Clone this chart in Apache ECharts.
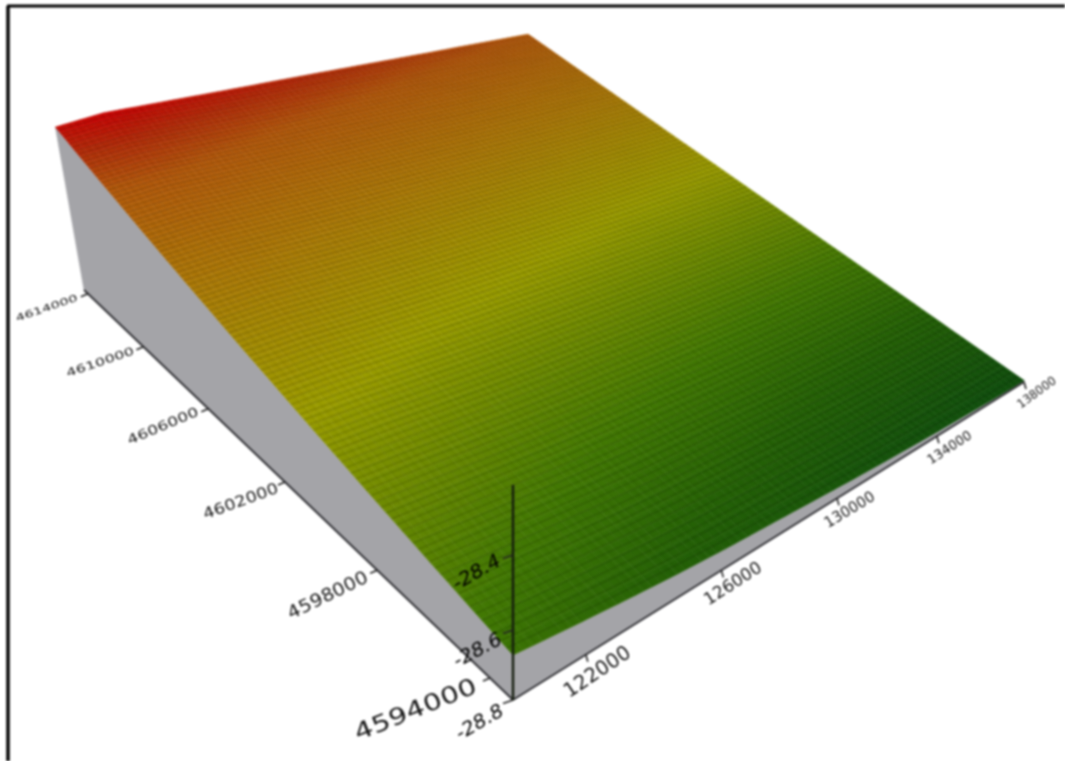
<!DOCTYPE html>
<html><head><meta charset="utf-8">
<style>html,body{margin:0;padding:0;background:#fff}#c{width:1065px;height:761px;filter:blur(0.8px)}</style>
<script src="https://cdn.jsdelivr.net/npm/echarts@6/dist/echarts.min.js"></script>
</head><body><div id="c"></div>
<script>
// ---- data ----
const xTicks = [122000, 126000, 130000, 134000, 138000];
const yTicks = [4594000, 4598000, 4602000, 4606000, 4610000, 4614000];
const zTicks = [-28.8, -28.6, -28.4];
const xRange = [120100, 138000];
const yRange = [4593280, 4614300];
const zRange = [-28.8, -28.2];
const zAxisTop = -28.225;
// surface heights: rows run from yRange[0] to yRange[1], columns from xRange[0] to xRange[1]
const row0 = [-28.670,-28.690,-28.708,-28.724,-28.737,-28.747,-28.757,-28.767,-28.775,-28.782,-28.787,-28.792,-28.795];
const row1 = [-28.620,-28.636,-28.651,-28.666,-28.678,-28.687,-28.696,-28.705,-28.713,-28.719,-28.724,-28.729,-28.732];
const row2 = [-28.567,-28.579,-28.593,-28.606,-28.617,-28.625,-28.634,-28.642,-28.649,-28.656,-28.660,-28.664,-28.668];
const row3 = [-28.512,-28.520,-28.533,-28.545,-28.555,-28.562,-28.570,-28.578,-28.585,-28.592,-28.596,-28.602,-28.605];
const row4 = [-28.455,-28.458,-28.471,-28.481,-28.490,-28.498,-28.505,-28.513,-28.520,-28.527,-28.531,-28.537,-28.541];
const row5 = [-28.395,-28.395,-28.406,-28.416,-28.425,-28.432,-28.439,-28.448,-28.454,-28.462,-28.466,-28.472,-28.478];
const row6 = [-28.332,-28.329,-28.339,-28.348,-28.357,-28.365,-28.372,-28.380,-28.388,-28.395,-28.401,-28.407,-28.414];
const row7 = [-28.267,-28.261,-28.270,-28.279,-28.288,-28.295,-28.304,-28.312,-28.320,-28.328,-28.334,-28.343,-28.351];
const row8 = [-28.199,-28.190,-28.199,-28.208,-28.217,-28.225,-28.234,-28.243,-28.252,-28.261,-28.269,-28.278,-28.287];
const heightRows = [row0,row1,row2,row3,row4,row5,row6,row7,row8];
// colour ramp
const rampZ = [-28.80,-28.72,-28.65,-28.52,-28.40,-28.287,-28.235,-28.19];
const rampC = [[14,76,14],[36,96,6],[66,120,3],[154,156,0],[172,122,8],[180,90,12],[180,45,10],[204,2,4]];

// ---- view ----
const camera = {g:.4,h:.6,i:.1,x0:513,y0:700,xs:920.6,ys:-165.2,xt:-378.6,yt:-236,xw:-51.3,yw:-273};
const yLabelStyle = [[-74,33,22,130,23],[-49,26,26,87,18],[-44,20,20,79,15],[-45,18,23,76,13],[-43,16,19,71,11],[-41,15,19,65,9.5]];
const xLabelStyle = [[12,18,34,76,20],[12,14,33,65,17],[13,12,31,56,15],[13,12,33,50,13],[13,11,36,45,12]];
const zLabelStyle = [[-33,23,30,52,19],[-35,21,28,52,19],[-36,18,30,52,19]];
const FONT = '"DejaVu Sans"';
const mctx = document.createElement('canvas').getContext('2d');

function nx(x){return (x-xRange[0])/(xRange[1]-xRange[0]);}
function ny(y){return (y-yRange[0])/(yRange[1]-yRange[0]);}
function nz(z){return (z-zRange[0])/(zRange[1]-zRange[0]);}
function project(s,t,w){
  const c=camera,D=1+c.g*s+c.h*t-c.i*w;
  return [(c.x0+c.xs*s+c.xt*t+c.xw*w)/D,(c.y0+c.ys*s+c.yt*t+c.yw*w)/D];
}
function height(s,t){
  const R=heightRows.length-1,C=heightRows[0].length-1;
  const a=Math.min(t*R,R-1e-9),b=Math.min(s*C,C-1e-9);
  const i=Math.floor(a),j=Math.floor(b),u=a-i,v=b-j;
  return (heightRows[i][j]*(1-v)+heightRows[i][j+1]*v)*(1-u)+(heightRows[i+1][j]*(1-v)+heightRows[i+1][j+1]*v)*u;
}
function colour(z){
  let k=0;while(k<rampZ.length-2&&z>rampZ[k+1])k++;
  const f=Math.max(0,Math.min(1,(z-rampZ[k])/(rampZ[k+1]-rampZ[k])));
  const c=rampC[k].map((a,n)=>Math.round(a+(rampC[k+1][n]-a)*f));
  return 'rgb('+c+')';
}
function surf(s,t){return project(s,t,nz(height(s,t)));}

// quads
const NS=72,NT=64,cells=[];
for(let j=0;j<NT;j++)for(let i=0;i<NS;i++)cells.push([i,j]);
const NL_T=110,NL_S=90,rowsIdx=[],colsIdx=[];
for(let j=1;j<NL_T;j++)rowsIdx.push([j]);
for(let i=1;i<NL_S;i++)colsIdx.push([i]);

function poly(api,pts,style){return {type:'polygon',shape:{points:pts.map(p=>api.coord(p))},style};}
function pline(api,pts,style){return {type:'polyline',shape:{points:pts.map(p=>api.coord(p))},style};}
function sample(fn,n){const a=[];for(let k=0;k<=n;k++)a.push(fn(k/n));return a;}

function label(api,tick,text,st,italic){
  const font=(italic?'italic ':'')+st[4]+'px '+FONT;mctx.font=font;
  const w=mctx.measureText(text).width;
  const c=api.coord([tick[0]+st[0],tick[1]+st[1]]);
  return {type:'text',x:c[0],y:c[1],rotation:st[2]*Math.PI/180,scaleX:st[3]/w,
    style:{text,font,fill:italic?'#000':'#161616',textAlign:'center',textVerticalAlign:'middle'}};
}
const tickStyle={stroke:'#222',lineWidth:1.6,fill:null};
const base={type:'custom',coordinateSystem:'cartesian2d',silent:true,animation:false,progressive:0,clip:false};

const option={
  animation:false,
  grid:{left:0,right:0,top:0,bottom:0},
  xAxis:{type:'value',min:0,max:1065,show:false},
  yAxis:{type:'value',min:0,max:761,inverse:true,show:false},
  graphic:[
    {type:'line',shape:{x1:7,y1:6,x2:1065,y2:6},style:{stroke:'#000',lineWidth:3}},
    {type:'line',shape:{x1:8,y1:6,x2:8,y2:761},style:{stroke:'#000',lineWidth:3.5}}
  ],
  series:[
    // walls
    Object.assign({},base,{z:1,data:[[0],[1]],renderItem(p,api){
      const isLeft=api.value(0)===0;
      const edge=sample(k=>isLeft?surf(0,k):surf(k,0),40);
      const foot=isLeft?project(0,1,0):project(1,0,0);
      return poly(api,edge.concat([foot,project(0,0,0)]),{fill:'#a4a4a8',stroke:'#a4a4a8',lineWidth:.5});
    }}),
    // surface
    Object.assign({},base,{z:2,data:cells,renderItem(p,api){
      const i=api.value(0),j=api.value(1);
      const s0=i/NS,s1=(i+1)/NS,t0=j/NT,t1=(j+1)/NT;
      const col=colour(height((s0+s1)/2,(t0+t1)/2));
      return poly(api,[surf(s0,t0),surf(s1,t0),surf(s1,t1),surf(s0,t1)],{fill:col,stroke:col,lineWidth:.6});
    }}),
    // mesh
    Object.assign({},base,{z:3,data:rowsIdx,renderItem(p,api){
      const t=api.value(0)/NL_T;
      return pline(api,sample(k=>surf(k,t),24),{stroke:'rgba(0,0,0,.2)',lineWidth:1.1,fill:null});
    }}),
    Object.assign({},base,{z:3,data:colsIdx,renderItem(p,api){
      const s=api.value(0)/NL_S;
      return pline(api,sample(k=>surf(s,k),16),{stroke:'rgba(0,0,0,.08)',lineWidth:1,fill:null});
    }}),
    // base axis lines + z axis
    Object.assign({},base,{z:4,data:[[0],[1],[2]],renderItem(p,api){
      const k=api.value(0);
      if(k===0)return pline(api,[project(0,0,0),project(1,0,0)],{stroke:'#2e2e32',lineWidth:1.8,fill:null});
      if(k===1)return pline(api,[project(0,0,0),project(0,1,0)],{stroke:'#2e2e32',lineWidth:1.8,fill:null});
      return pline(api,[project(0,0,0),project(0,0,nz(zAxisTop))],{stroke:'#141c0e',lineWidth:2.4,fill:null});
    }}),
    // x ticks
    Object.assign({},base,{z:5,data:xTicks.map((v,i)=>[v,i]),renderItem(p,api){
      const v=api.value(0),a=project(nx(v),0,0);
      return {type:'group',children:[
        pline(api,[a,[a[0]+2,a[1]+7]],tickStyle),
        label(api,a,String(v),xLabelStyle[api.value(1)],false)]};
    }}),
    // y ticks
    Object.assign({},base,{z:5,data:yTicks.map((v,i)=>[v,i]),renderItem(p,api){
      const v=api.value(0),a=project(0,ny(v),0);
      return {type:'group',children:[
        pline(api,[a,[a[0]-7,a[1]+3]],tickStyle),
        label(api,a,String(v),yLabelStyle[api.value(1)],false)]};
    }}),
    // z ticks
    Object.assign({},base,{z:5,data:zTicks.map((v,i)=>[v,i]),renderItem(p,api){
      const v=api.value(0),a=project(0,0,nz(v));
      return {type:'group',children:[
        pline(api,[a,[a[0]-10,a[1]+3.5]],tickStyle),
        label(api,a,v.toFixed(1),zLabelStyle[api.value(1)],true)]};
    }})
  ]
};
const chart=echarts.init(document.getElementById('c'),null,{renderer:'canvas'});
chart.setOption(option);
</script></body></html>
